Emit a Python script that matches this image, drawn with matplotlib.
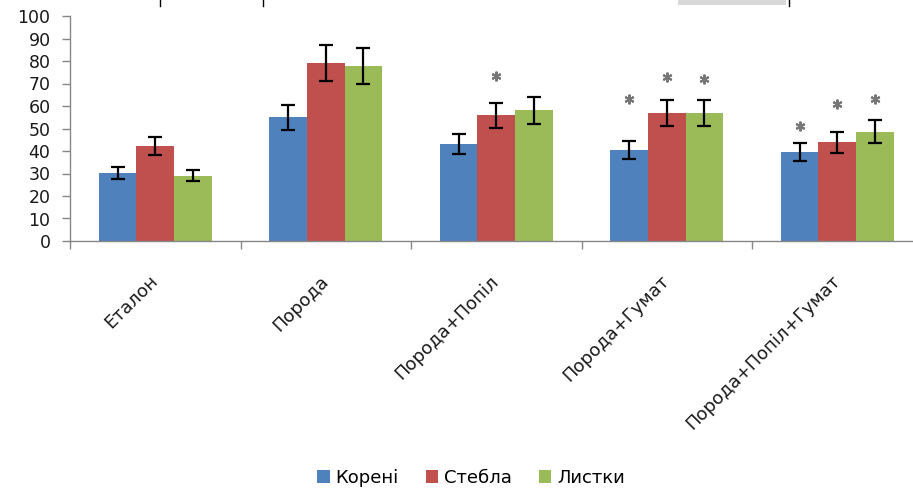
import matplotlib
matplotlib.use("Agg")
import matplotlib.pyplot as plt
import numpy as np
from matplotlib.patches import Patch, Rectangle
from matplotlib.lines import Line2D

categories = ["Еталон", "Порода", "Порода+Попіл", "Порода+Гумат", "Порода+Попіл+Гумат"]
series_names = ["Корені", "Стебла", "Листки"]
koreni = [30.2, 55.0, 43.0, 40.4, 39.7]
stebla = [42.2, 79.3, 55.8, 56.7, 43.9]
lystky = [29.0, 77.6, 58.2, 56.7, 48.6]
koreni_err = [2.5, 5.5, 4.5, 4.0, 4.0]
stebla_err = [4.0, 8.0, 5.7, 5.8, 4.6]
lystky_err = [2.5, 8.0, 6.0, 5.8, 5.0]
# significance asterisks: (category index, series index, y position)
star_cat = [2, 3, 3, 3, 4, 4, 4]
star_ser = [1, 0, 1, 2, 0, 1, 2]
star_y = [73.5, 63.0, 73.0, 72.0, 51.0, 61.0, 63.0]

colors = ["#4F81BD", "#C0504D", "#9BBB59"]

W, H = 913, 488
fig = plt.figure(figsize=(W / 100, H / 100), dpi=100)
ax = fig.add_axes([70 / W, (H - 241) / H, 852.5 / W, 225 / H])

x = np.arange(len(categories))
bw = 0.22
values = [koreni, stebla, lystky]
errs = [koreni_err, stebla_err, lystky_err]
for i, (v, e) in enumerate(zip(values, errs)):
    pos = x + (i - 1) * bw
    ax.bar(pos, v, width=bw, color=colors[i], edgecolor="none", zorder=2)
    ax.errorbar(pos, v, yerr=e, fmt="none", ecolor="black", elinewidth=1.6,
                capsize=4.8, capthick=1.6, zorder=3)

for c, s, yv in zip(star_cat, star_ser, star_y):
    ax.plot(x[c] + (s - 1) * bw, yv, marker=(6, 2, 0), markersize=7,
            color="#777777", mew=1.5, zorder=4)

ax.set_xlim(-0.5, len(categories) - 0.5)
ax.set_ylim(0, 100)
ax.set_yticks(np.arange(0, 101, 10))
ax.tick_params(axis="y", length=6, width=1, color="#868686", pad=8,
               labelsize=12.5, labelcolor="#1a1a1a")
ax.set_xticks(np.arange(-0.5, len(categories), 1.0), minor=False)
ax.set_xticklabels([])
ax.tick_params(axis="x", length=6, width=1, color="#868686")
ax.set_xticks(x, minor=True)
ax.set_xticklabels(categories, minor=True, rotation=45, ha="right", va="center",
                   rotation_mode="anchor", fontsize=13, color="#1a1a1a")
ax.tick_params(axis="x", which="minor", length=0, pad=27)

for sp in ["top", "right"]:
    ax.spines[sp].set_visible(False)
ax.spines["left"].set_color("#868686")
ax.spines["bottom"].set_color("#868686")
ax.spines["left"].set_linewidth(1)
ax.spines["bottom"].set_linewidth(1)

handles = [Patch(facecolor=c, edgecolor="none") for c in colors]
fig.legend(handles, series_names, loc="center", bbox_to_anchor=(471 / W, 1 - 478 / H),
           ncol=3, frameon=False, fontsize=13, handlelength=0.7, handleheight=0.7,
           handletextpad=0.3, columnspacing=1.5)

# remnants of a table border at the very top of the image
for xp in [160, 263, 789]:
    fig.add_artist(Line2D([xp / W, xp / W], [1, 1 - 6 / H], color="black", lw=1))
fig.add_artist(Rectangle((678 / W, 1 - 5 / H), 108 / W, 5 / H, color="#d9d9d9", lw=0))

fig.savefig("out.png", dpi=100)
